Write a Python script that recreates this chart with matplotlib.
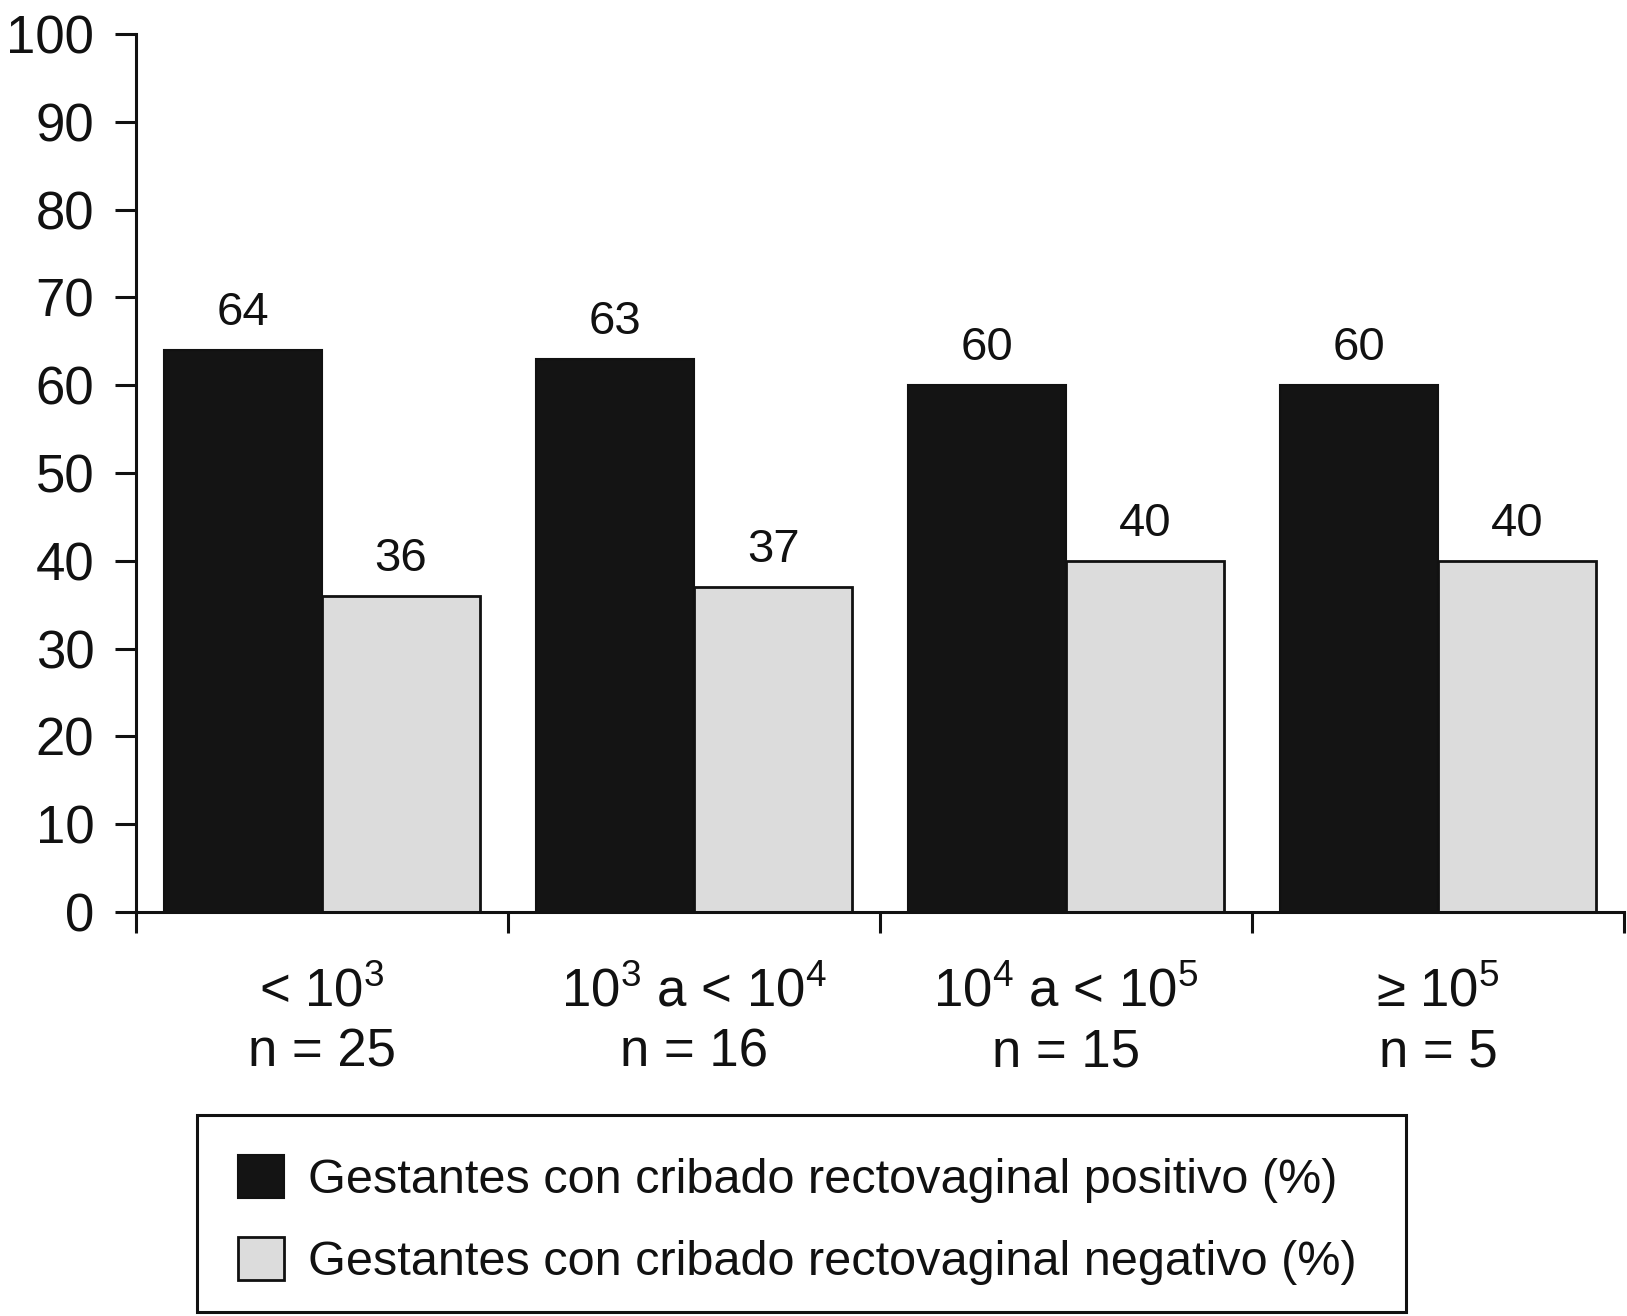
import matplotlib
matplotlib.use("Agg")
import numpy as np
import matplotlib.pyplot as plt
from matplotlib.patches import Rectangle

plt.rcParams["font.family"] = ["Liberation Sans", "DejaVu Sans"]
plt.rcParams["mathtext.fontset"] = "custom"
plt.rcParams["mathtext.rm"] = "Liberation Sans"
plt.rcParams["mathtext.it"] = "Liberation Sans:italic"
plt.rcParams["mathtext.bf"] = "Liberation Sans:bold"

# Datos
categorias = [r"< 10$^{3}$", r"10$^{3}$ a < 10$^{4}$", r"10$^{4}$ a < 10$^{5}$", r"≥ 10$^{5}$"]
n_grupo = [25, 16, 15, 5]
positivo = [64, 63, 60, 60]
negativo = [36, 37, 40, 40]
etiquetas_serie = ["Gestantes con cribado rectovaginal positivo (%)",
                   "Gestantes con cribado rectovaginal negativo (%)"]

color_pos = "#141414"
color_neg = "#dcdcdc"

W, H = 1627, 1316
fig = plt.figure(figsize=(W / 100, H / 100), dpi=100)
ax = fig.add_axes([136 / W, 1 - 912 / H, 1488 / W, 878 / H])

x = np.arange(len(categorias))
ancho = 0.425
b1 = ax.bar(x + 0.2875, positivo, ancho, color=color_pos, edgecolor="#111111", linewidth=1.5,
            label=etiquetas_serie[0], zorder=2)
b2 = ax.bar(x + 0.7125, negativo, ancho, color=color_neg, edgecolor="#111111", linewidth=2,
            label=etiquetas_serie[1], zorder=2)

for barras in (b1, b2):
    for b in barras:
        ax.annotate(f"{b.get_height():.0f}", (b.get_x() + b.get_width() / 2, b.get_height()),
                    xytext=(0, 11), textcoords="offset points", ha="center", va="bottom",
                    fontsize=34, color="#111111")

ax.set_xlim(0, len(categorias))
ax.set_ylim(0, 100)
ax.set_yticks(np.arange(0, 101, 10))
ax.set_xticks(np.arange(0, len(categorias) + 1))
ax.set_xticklabels([])
ax.set_xticks(x + 0.5, minor=True)
ax.set_xticklabels([f"{c}\nn = {n}" for c, n in zip(categorias, n_grupo)], minor=True,
                   linespacing=1.25)

for lado in ("top", "right"):
    ax.spines[lado].set_visible(False)
for lado in ("left", "bottom"):
    ax.spines[lado].set_linewidth(2.2)
    ax.spines[lado].set_color("#111111")

ax.tick_params(axis="y", which="major", length=15, width=2.2, pad=15, labelsize=38,
               colors="#111111")
ax.tick_params(axis="x", which="major", length=15, width=2.2, colors="#111111")
ax.tick_params(axis="x", which="minor", length=0, pad=40, labelsize=38, colors="#111111")

# Marco de la leyenda
fig.patches.append(Rectangle((197 / W, 1 - 1312 / H), (1406 - 197) / W, (1312 - 1115) / H,
                             transform=fig.transFigure, fill=False, edgecolor="#111111",
                             linewidth=2.2))

leg = fig.legend(handles=[b1, b2], labels=etiquetas_serie, loc="upper left",
                 bbox_to_anchor=(238 / W, 1 - 1155 / H), borderaxespad=0, borderpad=0,
                 fontsize=35, frameon=False, handlelength=0.95, handleheight=0.97,
                 handletextpad=0.5, labelspacing=0.7)
for t in leg.get_texts():
    t.set_color("#111111")

fig.savefig("out.png", dpi=100, facecolor="white")
